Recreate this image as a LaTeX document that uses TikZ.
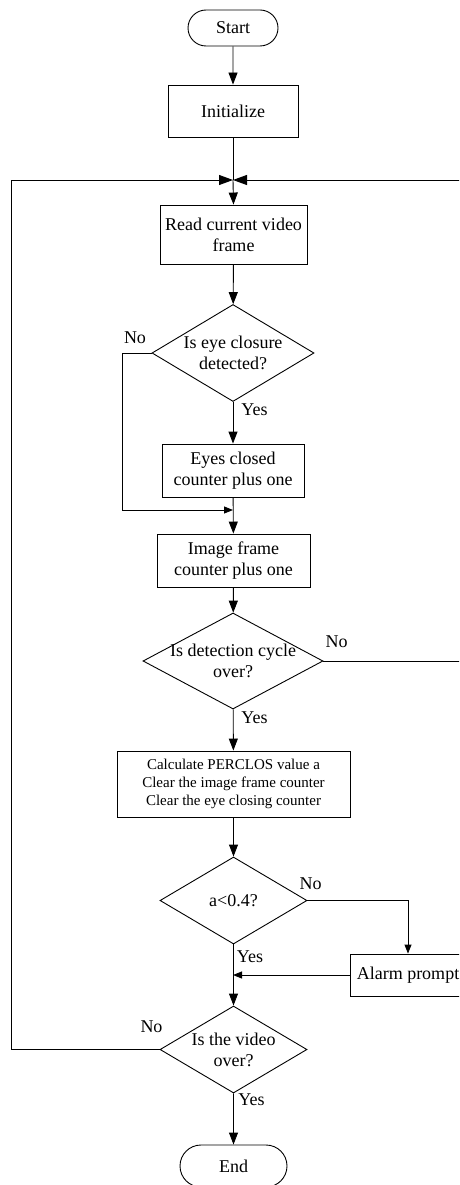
\documentclass[tikz,border=0pt]{standalone}
\usepackage{fontspec}
\setmainfont{Liberation Serif}
\usetikzlibrary{shapes.geometric,shapes.misc,arrows.meta}
\begin{document}
\begin{tikzpicture}[x=1pt,y=-1pt,
  font=\fontsize{18}{21}\selectfont,
  line width=0.9pt,
  flow/.style={-{Triangle[length=12pt,width=9pt]}},
  bigflow/.style={-{Triangle[length=14pt,width=10pt]}},
  smallflow/.style={-{Triangle[length=9pt,width=7pt]}},
  term/.style={draw,rounded rectangle,inner sep=0pt},
  procbox/.style={draw,rectangle,inner sep=0pt,align=center},
  dec/.style={draw,diamond,inner sep=0pt},
  lbl/.style={inner sep=0pt}
]
\useasboundingbox (0,0) rectangle (459,1185);
\clip (0,0) rectangle (459,1185);

\node[term,minimum width=90pt,minimum height=36pt] (start) at (233,28) {Start};
\node[procbox,minimum width=130pt,minimum height=52pt] (init) at (233,111) {Initialize};
\node[procbox,minimum width=147pt,minimum height=59pt] (read) at (233.5,234.5) {Read current video\\frame};
\node[dec,minimum width=162pt,minimum height=97pt,
  label={[align=center]center:Is eye closure\\detected?}] (d1) at (233,353) {};
\node[procbox,minimum width=142pt,minimum height=53pt] (eyes) at (233,470.5) {Eyes closed\\counter plus one};
\node[procbox,minimum width=153pt,minimum height=53pt] (img) at (233.5,560.5) {Image frame\\counter plus one};
\node[dec,minimum width=180pt,minimum height=96pt,
  label={[align=center]center:Is detection cycle\\over?}] (d2) at (233,661) {};
\node[procbox,minimum width=233pt,minimum height=66pt,font=\fontsize{15}{18}\selectfont] (calc) at (233.5,784)
  {Calculate PERCLOS value a\\Clear the image frame counter\\Clear the eye closing counter};
\node[dec,minimum width=147pt,minimum height=87pt,
  label={center:a<0.4?}] (d3) at (233.5,900.5) {};
\node[procbox,minimum width=116pt,minimum height=42pt] (alarm) at (408,975) {Alarm prompt};
\node[dec,minimum width=147pt,minimum height=87pt,
  label={[align=center]center:Is the video\\over?}] (d4) at (233.5,1049.5) {};
\node[term,minimum width=107pt,minimum height=42pt] (end) at (233.5,1166) {End};

\coordinate (J) at (233,180);
\coordinate (L) at (11,180);
\coordinate (R) at (462,180);
\coordinate (M1) at (233,510);
\coordinate (M2) at (233,975);

\draw[flow] (start) -- (init);
\draw (init.south) -- (J);
\draw[flow] (J) -- (read.north);
\draw[flow] (read) -- (d1);
\draw[flow] (d1) -- (eyes);
\draw[flow] (eyes) -- (img);
\draw[smallflow] (d1.west) -- (122,353) -- (122,510) -- (M1);
\draw[flow] (img) -- (d2);
\draw[flow] (d2) -- (calc);
\draw[bigflow] (d2.east) -- (d2.east -| R) -- (R) -- (J);
\draw[flow] (calc) -- (d3);
\draw[smallflow] (d3.east) -| (alarm.north);
\draw[smallflow] (alarm.west) -- (M2);
\draw[flow] (d3.south) -- (d4.north);
\draw[flow] (d4) -- (end);
\draw[bigflow] (d4.west) -- (d4.west -| L) -- (L) -- (J);

\node[lbl] (n1) at (135,338) {No};
\node[lbl] (y1) at (254.5,410) {Yes};
\node[lbl] (n2) at (336.5,642) {No};
\node[lbl] (y2) at (254.5,718) {Yes};
\node[lbl] (n3) at (310.5,884) {No};
\node[lbl] (y3) at (250,957) {Yes};
\node[lbl] (n4) at (151.5,1027) {No};
\node[lbl] (y4) at (251.5,1100) {Yes};
\end{tikzpicture}
\end{document}
